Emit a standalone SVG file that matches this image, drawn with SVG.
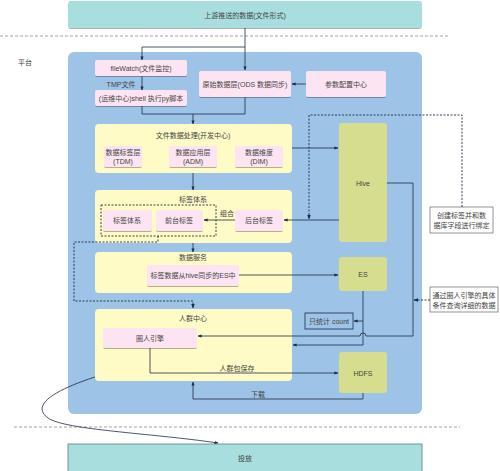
<svg xmlns="http://www.w3.org/2000/svg" width="500" height="471" viewBox="0 0 500 471">
<defs>
<marker id="arr" viewBox="0 0 10 10" refX="9" refY="5" markerWidth="5" markerHeight="5" orient="auto">
<path d="M0,1 L10,5 L0,9 z" fill="#1d2b45"/>
</marker>
<filter id="sh" x="-10%" y="-10%" width="120%" height="140%">
<feDropShadow dx="0" dy="1" stdDeviation="0.6" flood-color="#000" flood-opacity="0.3"/>
</filter>
</defs>
<style>
text{font-family:"Liberation Sans","Noto Sans CJK SC",sans-serif;font-size:7px;fill:#444;text-anchor:middle;dominant-baseline:central}
.teal{fill:#a8dedd}
.plat{fill:#9dc3e6}
.yel{fill:#fffbc6}
.pink{fill:#fde4f2;filter:url(#sh)}
.olive{fill:#d6dd8f}
.ln{fill:none;stroke:#1d2b45;stroke-width:0.8}
.ar{marker-end:url(#arr)}
.dash{fill:none;stroke:#1d2b45;stroke-width:0.9;stroke-dasharray:2,1.5}
.sep{fill:none;stroke:#777;stroke-width:0.7;stroke-dasharray:3,2}
.note{fill:#fff;stroke:#666;stroke-width:0.7}
</style>
<rect width="500" height="471" fill="#fff"/>
<path class="sep" d="M0,36 H448"/>
<path class="sep" d="M14,427 H460"/>
<text x="25" y="62">平台</text>

<g id="upstream">
<rect class="teal" x="68" y="1" width="354" height="27" rx="3" filter="url(#sh)"/>
<text x="245" y="15">上游推送的数据(文件形式)</text>
</g>
<g id="platform">
<rect class="plat" x="68" y="52" width="354" height="362" rx="6"/>
</g>
<g id="filewatch">
<rect class="pink" x="95" y="60" width="92" height="16" rx="2"/>
<text x="141" y="68">fileWatch(文件监控)</text>
</g>
<g id="shell">
<rect class="pink" x="95" y="90" width="92" height="16" rx="2"/>
<text x="141" y="98">(运维中心)shell 执行py脚本</text>
</g>
<g id="ods">
<rect class="pink" x="199" y="71" width="92" height="26" rx="2"/>
<text x="245" y="84">原始数据层(ODS 数据同步)</text>
</g>
<g id="param">
<rect class="pink" x="306" y="71" width="80" height="26" rx="2"/>
<text x="346" y="84">参数配置中心</text>
</g>
<g id="fileproc">
<rect class="yel" x="95" y="124" width="197" height="49" rx="4"/>
<text x="193" y="135">文件数据处理(开发中心)</text>
<rect class="pink" x="104" y="146" width="38" height="21" rx="2"/>
<text x="123" y="152">数据标签层</text><text x="123" y="161">(TDM)</text>
<rect class="pink" x="169" y="146" width="48" height="21" rx="2"/>
<text x="193" y="152">数据应用层</text><text x="193" y="161">(ADM)</text>
<rect class="pink" x="235" y="146" width="48" height="21" rx="2"/>
<text x="259" y="152">数据维度</text><text x="259" y="161">(DIM)</text>
</g>
<g id="tagsys">
<rect class="yel" x="95" y="190" width="197" height="53" rx="4"/>
<text x="193" y="199">标签体系</text>
<rect x="101" y="205" width="115" height="31" fill="none" stroke="#1d2b45" stroke-width="0.9" stroke-dasharray="2,1.5"/>
<rect class="pink" x="103" y="210" width="49" height="21" rx="2"/>
<text x="127" y="220">标签体系</text>
<rect class="pink" x="156" y="210" width="47" height="21" rx="2"/>
<text x="179" y="220">前台标签</text>
<rect class="pink" x="235" y="210" width="48" height="21" rx="2"/>
<text x="259" y="220">后台标签</text>
</g>
<g id="dataservice">
<rect class="yel" x="95" y="252" width="197" height="41" rx="4"/>
<text x="193" y="257">数据服务</text>
<rect class="pink" x="147" y="265" width="92" height="21" rx="2"/>
<text x="193" y="275">标签数据从hive同步的ES中</text>
</g>
<g id="crowd">
<rect class="yel" x="95" y="309" width="197" height="72" rx="4"/>
<text x="193" y="318">人群中心</text>
<rect class="pink" x="103" y="328" width="94" height="20" rx="2"/>
<text x="150" y="338">圈人引擎</text>
</g>
<g id="hive">
<rect class="olive" x="339" y="123" width="48" height="119" rx="3"/>
<text x="363" y="183">Hive</text>
</g>
<g id="es">
<rect class="olive" x="339" y="257" width="48" height="34" rx="3"/>
<text x="363" y="274">ES</text>
</g>
<g id="hdfs">
<rect class="olive" x="339" y="352" width="48" height="41" rx="3"/>
<text x="363" y="373">HDFS</text>
</g>
<g id="count">
<rect x="305" y="313" width="48" height="16" fill="none" stroke="#1d2b45" stroke-width="0.8"/>
<text x="329" y="321">只统计 count</text>
</g>
<g id="note1">
<rect class="note" x="430" y="207" width="63" height="26"/>
<text x="461.5" y="215">创建标签并和数</text>
<text x="461.5" y="225">据库字段进行绑定</text>
</g>
<g id="note2">
<rect class="note" x="430" y="287" width="68" height="25"/>
<text x="464" y="295">通过圈人引擎的具体</text>
<text x="464" y="305">条件查询详细的数据</text>
</g>
<g id="launch">
<rect x="68" y="444" width="354" height="30" fill="#a8dedd" stroke="#5f7f80" stroke-width="0.8"/>
<text x="245" y="458">投放</text>
</g>

<g id="connectors">
<path class="ln ar" d="M245,28 V70"/>
<path class="ln ar" d="M245,47 H142 V60"/>
<path class="ln ar" d="M142,76 V90"/>
<path class="ln ar" d="M306,84 H292"/>
<path class="ln" d="M142,106 V114 H245 V97"/>
<path class="ln ar" d="M193,114 V124"/>
<path class="ln ar" d="M292,148 H338"/>
<path class="ln ar" d="M193,173 V190"/>
<path class="ln ar" d="M339,220 H284"/>
<path class="ln ar" d="M235,220 H204"/>
<path class="ln ar" d="M193,243 V252"/>
<path class="ln ar" d="M239,275 H338"/>
<path class="ln ar" d="M387,183 H413 V336 H366 A3,3 0 0 0 360,336 H198"/>
<path class="ln ar" d="M363,291 V345 H293"/>
<path class="ln ar" d="M363,321 H354"/>
<path class="ln ar" d="M150,348 V373 H338"/>
<path class="ln ar" d="M363,393 V399 H193 V382"/>
<path class="dash ar" d="M158,236 V242 H74 V301 H193 V308"/>
<path class="dash ar" d="M462,207 V115 H309 V219"/>
<path class="dash ar" d="M430,300 H414"/>
<path class="ln ar" d="M95,377 C55,390 30,405 48,418 C65,430 150,433 218,443"/>
<text x="121" y="84">TMP文件</text>
<text x="227" y="213">组合</text>
<text x="237" y="368">人群包保存</text>
<text x="258" y="394">下载</text>
</g>
</svg>
